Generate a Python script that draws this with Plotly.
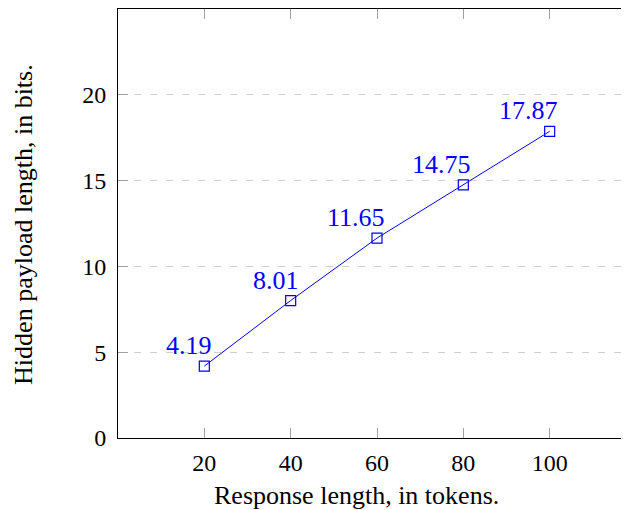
import plotly.graph_objects as go

tokens = [20, 40, 60, 80, 100]
bits = [4.19, 8.01, 11.65, 14.75, 17.87]
labels = ["4.19", "8.01", "11.65", "14.75", "17.87"]
x_ticks = [20, 40, 60, 80, 100]
y_ticks = [0, 5, 10, 15, 20]
x_title = "Response length, in tokens."
y_title = "Hidden payload length, in bits."

FONT = "Liberation Serif, Times New Roman, serif"
BLUE = "#0000ff"

fig = go.Figure()
fig.add_trace(go.Scatter(
    x=tokens, y=bits, mode="lines+markers",
    line=dict(color=BLUE, width=1),
    marker=dict(symbol="square-open", size=10, color=BLUE, line=dict(width=1.2)),
    showlegend=False, cliponaxis=False,
))

annotations = [
    dict(text=t, x=x, y=y, xref="x", yref="y", xanchor="right", yanchor="bottom",
         xshift=10, yshift=4, showarrow=False,
         font=dict(family=FONT, size=26, color=BLUE))
    for x, y, t in zip(tokens, bits, labels)
]
annotations += [
    dict(text=x_title, xref="paper", yref="paper", x=0.461, y=-0.133,
         xanchor="center", yanchor="middle", showarrow=False,
         font=dict(size=26)),
    dict(text=y_title, xref="paper", yref="paper", x=-0.1815, y=0.499,
         xanchor="center", yanchor="middle", showarrow=False, textangle=-90,
         font=dict(size=26)),
]

fig.update_layout(
    width=629, height=510,
    margin=dict(l=110, r=1, t=1, b=80),
    paper_bgcolor="white", plot_bgcolor="white",
    font=dict(family=FONT, size=24, color="black"),
    xaxis=dict(
        range=[0, 120], tickvals=x_ticks,
        ticks="inside", ticklen=10, tickcolor="#a0a0a0", tickwidth=1.2,
        showline=True, linecolor="black", linewidth=1, mirror="ticks",
        showgrid=False, zeroline=False,
        tickfont=dict(size=24), ticklabelstandoff=3,
    ),
    yaxis=dict(
        range=[0, 25], tickvals=y_ticks,
        ticks="inside", ticklen=10, tickcolor="#a0a0a0", tickwidth=1.2,
        showline=True, linecolor="black", linewidth=1, mirror="ticks",
        showgrid=True, gridcolor="#d0d0d0", griddash="7px,9px", gridwidth=1.2,
        zeroline=False,
        tickfont=dict(size=24), ticklabelstandoff=6,
    ),
    annotations=annotations,
)

fig.write_html("out.html")
